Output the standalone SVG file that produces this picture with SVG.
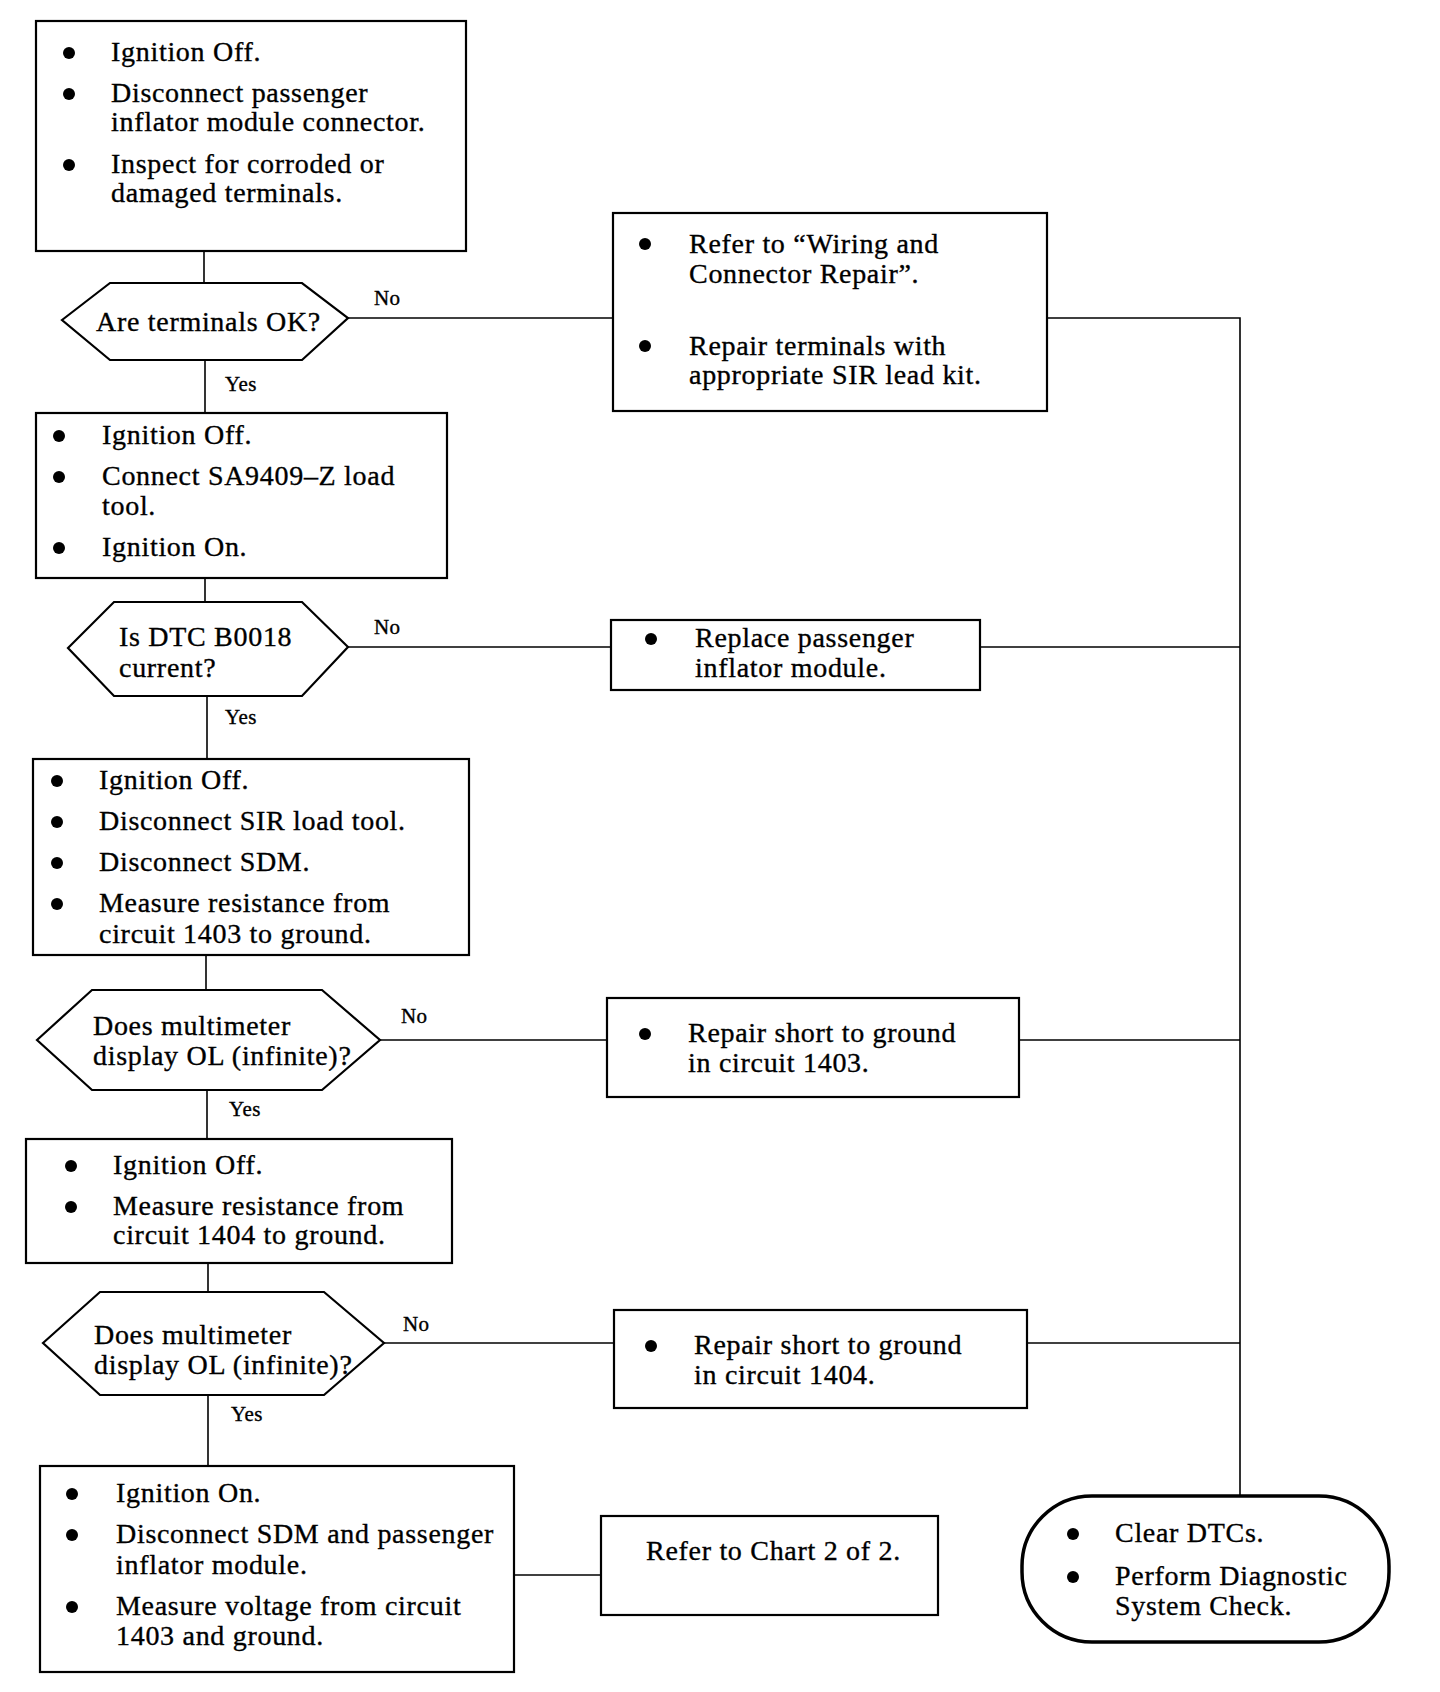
<svg xmlns="http://www.w3.org/2000/svg" width="1440" height="1692" viewBox="0 0 1440 1692">
<style>
.box{fill:#fff;stroke:#000;stroke-width:2.2}
.oval{fill:#fff;stroke:#000;stroke-width:3.5}
.ln{fill:none;stroke:#000;stroke-width:1.6}
text{font-family:"Liberation Serif","Times New Roman",serif;fill:#000;stroke:#000;stroke-width:0.35}
.t{font-size:28px;letter-spacing:0.7px}
.lb{font-size:21px;letter-spacing:0.4px}
.b{fill:#000}
</style>
<rect width="1440" height="1692" fill="#fff"/>
<g id="connectors">
<polyline class="ln" points="204,251 204,283"/>
<polyline class="ln" points="205,360 205,413"/>
<polyline class="ln" points="348,318 613,318"/>
<polyline class="ln" points="1047,318 1240,318 1240,1496"/>
<polyline class="ln" points="205,578 205,602"/>
<polyline class="ln" points="207,696 207,759"/>
<polyline class="ln" points="348,647 611,647"/>
<polyline class="ln" points="980,647 1240,647"/>
<polyline class="ln" points="206,955 206,990"/>
<polyline class="ln" points="207,1090 207,1139"/>
<polyline class="ln" points="380,1040 607,1040"/>
<polyline class="ln" points="1019,1040 1240,1040"/>
<polyline class="ln" points="208,1263 208,1292"/>
<polyline class="ln" points="208,1395 208,1466"/>
<polyline class="ln" points="384,1343 614,1343"/>
<polyline class="ln" points="1027,1343 1240,1343"/>
<polyline class="ln" points="514,1575 601,1575"/>
<text class="lb" x="374" y="305">No</text>
<text class="lb" x="225" y="391">Yes</text>
<text class="lb" x="374" y="634">No</text>
<text class="lb" x="225" y="724">Yes</text>
<text class="lb" x="401" y="1023">No</text>
<text class="lb" x="229" y="1116">Yes</text>
<text class="lb" x="403" y="1331">No</text>
<text class="lb" x="231" y="1421">Yes</text>
</g>
<g id="box1">
<rect class="box" x="36" y="21" width="430" height="230"/>
<circle class="b" cx="69" cy="53" r="6"/><text class="t" x="111" y="61">Ignition Off.</text>
<circle class="b" cx="69" cy="94" r="6"/><text class="t" x="111" y="102">Disconnect passenger</text>
<text class="t" x="111" y="131">inflator module connector.</text>
<circle class="b" cx="69" cy="165" r="6"/><text class="t" x="111" y="173">Inspect for corroded or</text>
<text class="t" x="111" y="202">damaged terminals.</text>
</g>
<g id="dec1">
<polygon class="box" points="62,320 110,283 302,283 348,318 302,360 110,360"/>
<text class="t" x="96" y="331">Are terminals OK?</text>
</g>
<g id="repairTerminals">
<rect class="box" x="613" y="213" width="434" height="198"/>
<circle class="b" cx="645" cy="244" r="6"/><text class="t" x="689" y="253">Refer to “Wiring and</text>
<text class="t" x="689" y="283">Connector Repair”.</text>
<circle class="b" cx="645" cy="346" r="6"/><text class="t" x="689" y="355">Repair terminals with</text>
<text class="t" x="689" y="384">appropriate SIR lead kit.</text>
</g>
<g id="box2">
<rect class="box" x="36" y="413" width="411" height="165"/>
<circle class="b" cx="59" cy="436" r="6"/><text class="t" x="102" y="444">Ignition Off.</text>
<circle class="b" cx="59" cy="477" r="6"/><text class="t" x="102" y="485">Connect SA9409–Z load</text>
<text class="t" x="102" y="515">tool.</text>
<circle class="b" cx="59" cy="548" r="6"/><text class="t" x="102" y="556">Ignition On.</text>
</g>
<g id="dec2">
<polygon class="box" points="68,648 114,602 302,602 348,647 302,696 114,696"/>
<text class="t" x="119" y="646">Is DTC B0018</text>
<text class="t" x="119" y="677">current?</text>
</g>
<g id="replaceModule">
<rect class="box" x="611" y="620" width="369" height="70"/>
<circle class="b" cx="651" cy="639" r="6"/><text class="t" x="695" y="647">Replace passenger</text>
<text class="t" x="695" y="677">inflator module.</text>
</g>
<g id="box3">
<rect class="box" x="33" y="759" width="436" height="196"/>
<circle class="b" cx="57" cy="781" r="6"/><text class="t" x="99" y="789">Ignition Off.</text>
<circle class="b" cx="57" cy="822" r="6"/><text class="t" x="99" y="830">Disconnect SIR load tool.</text>
<circle class="b" cx="57" cy="863" r="6"/><text class="t" x="99" y="871">Disconnect SDM.</text>
<circle class="b" cx="57" cy="904" r="6"/><text class="t" x="99" y="912">Measure resistance from</text>
<text class="t" x="99" y="943">circuit 1403 to ground.</text>
</g>
<g id="dec3">
<polygon class="box" points="37,1040 92,990 322,990 380,1040 322,1090 92,1090"/>
<text class="t" x="93" y="1035">Does multimeter</text>
<text class="t" x="93" y="1065">display OL (infinite)?</text>
</g>
<g id="short1403">
<rect class="box" x="607" y="998" width="412" height="99"/>
<circle class="b" cx="645" cy="1034" r="6"/><text class="t" x="688" y="1042">Repair short to ground</text>
<text class="t" x="688" y="1072">in circuit 1403.</text>
</g>
<g id="box4">
<rect class="box" x="26" y="1139" width="426" height="124"/>
<circle class="b" cx="71" cy="1166" r="6"/><text class="t" x="113" y="1174">Ignition Off.</text>
<circle class="b" cx="71" cy="1207" r="6"/><text class="t" x="113" y="1215">Measure resistance from</text>
<text class="t" x="113" y="1244">circuit 1404 to ground.</text>
</g>
<g id="dec4">
<polygon class="box" points="43,1343 100,1292 324,1292 384,1343 324,1395 100,1395"/>
<text class="t" x="94" y="1344">Does multimeter</text>
<text class="t" x="94" y="1374">display OL (infinite)?</text>
</g>
<g id="short1404">
<rect class="box" x="614" y="1310" width="413" height="98"/>
<circle class="b" cx="651" cy="1346" r="6"/><text class="t" x="694" y="1354">Repair short to ground</text>
<text class="t" x="694" y="1384">in circuit 1404.</text>
</g>
<g id="box5">
<rect class="box" x="40" y="1466" width="474" height="206"/>
<circle class="b" cx="72" cy="1494" r="6"/><text class="t" x="116" y="1502">Ignition On.</text>
<circle class="b" cx="72" cy="1535" r="6"/><text class="t" x="116" y="1543">Disconnect SDM and passenger</text>
<text class="t" x="116" y="1574">inflator module.</text>
<circle class="b" cx="72" cy="1607" r="6"/><text class="t" x="116" y="1615">Measure voltage from circuit</text>
<text class="t" x="116" y="1645">1403 and ground.</text>
</g>
<g id="chart2">
<rect class="box" x="601" y="1516" width="337" height="99"/>
<text class="t" x="646" y="1560">Refer to Chart 2 of 2.</text>
</g>
<g id="clearDTC">
<rect class="oval" x="1022" y="1496" width="367" height="146" rx="70" ry="70"/>
<circle class="b" cx="1073" cy="1534" r="6"/><text class="t" x="1115" y="1542">Clear DTCs.</text>
<circle class="b" cx="1073" cy="1577" r="6"/><text class="t" x="1115" y="1585">Perform Diagnostic</text>
<text class="t" x="1115" y="1615">System Check.</text>
</g>
</svg>
